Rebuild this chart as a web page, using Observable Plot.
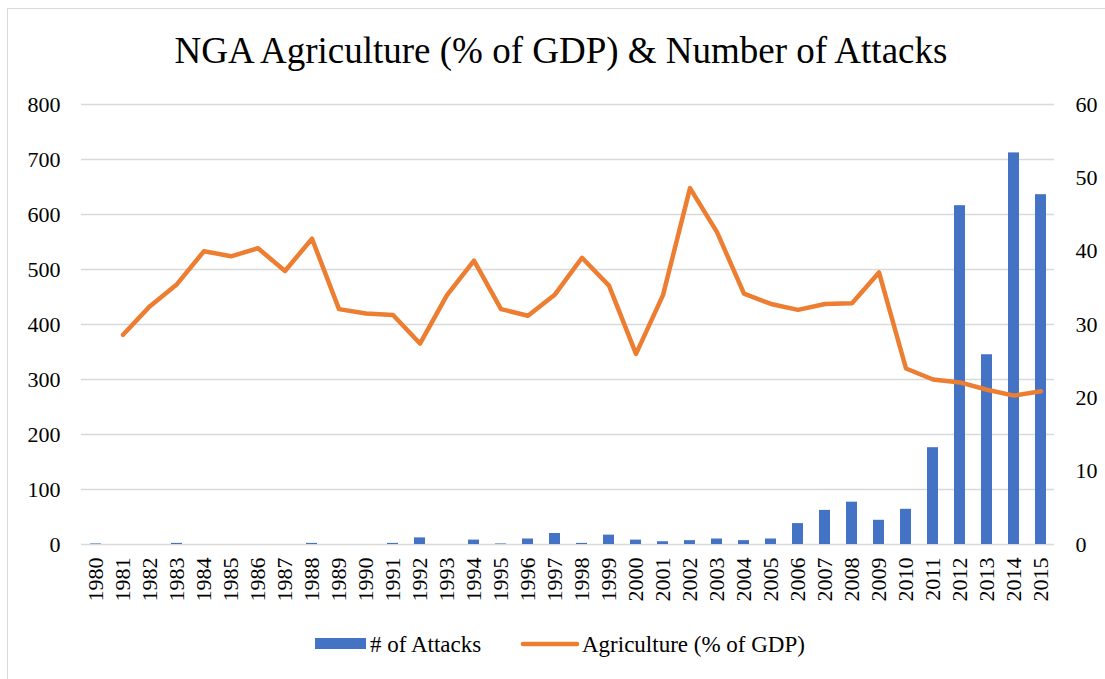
<!DOCTYPE html>
<html>
<head>
<meta charset="utf-8">
<script src="https://cdn.jsdelivr.net/npm/d3@7"></script>
<script src="https://cdn.jsdelivr.net/npm/@observablehq/plot@0.6"></script>
<style>
  html, body { margin: 0; padding: 0; background: #fff; overflow: hidden; }
  #wrap { position: relative; width: 1105px; height: 679px; overflow: hidden; font-family: "Liberation Serif", "Times New Roman", serif; }
  #frame { position: absolute; left: 7px; top: 8px; width: 1300px; height: 900px; border: 1.5px solid #d9d9d9; box-sizing: border-box; }
  #title { position: absolute; top: 32px; left: 561px; transform: translateX(-50%); white-space: nowrap; font-size: 37px; line-height: 1; color: #000; }
  #chart { position: absolute; left: 0; top: 0; }
  #chart svg text { font-family: "Liberation Serif", "Times New Roman", serif; }
  .leg { position: absolute; font-size: 23px; line-height: 1; color: #000; white-space: nowrap; }
</style>
</head>
<body>
<div id="wrap">
  <div id="frame"></div>
  <div id="chart"></div>
  <div id="title">NGA Agriculture (% of GDP) &amp; Number of Attacks</div>
  <div id="legend"></div>
</div>
<script>
const years = ["1980","1981","1982","1983","1984","1985","1986","1987","1988","1989",
  "1990","1991","1992","1993","1994","1995","1996","1997","1998","1999",
  "2000","2001","2002","2003","2004","2005","2006","2007","2008","2009",
  "2010","2011","2012","2013","2014","2015"];
const attacks = [1,0,0,2,0,0,0,0,2,0,
  0,2,12,0,8,1,10,20,2,17,
  8,5,7,10,7,10,38,62,77,44,
  64,176,616,345,712,636];
const agriYears = years.slice(1);
const agriculture = [28.6,32.5,35.5,40.0,39.3,40.4,37.3,41.7,32.1,
  31.5,31.3,27.4,34.0,38.7,32.1,31.2,34.1,39.1,35.3,
  26.0,34.0,48.6,42.6,34.2,32.8,32.0,32.8,32.9,37.1,
  24.0,22.5,22.1,21.1,20.3,20.9];
const leftTicks = [0,100,200,300,400,500,600,700,800];
const rightTicks = [0,10,20,30,40,50,60];
const leftMax = 800, rightMax = 60;
const seriesNames = ["# of Attacks", "Agriculture (% of GDP)"];
const colors = ["#4472C4", "#ED7D31"];

const barData = years.map((y, i) => ({year: y, value: attacks[i]}));
const lineData = agriYears.map((y, i) => ({year: y, value: agriculture[i]}));
const toLeft = v => v * leftMax / rightMax;

const chart = Plot.plot({
  width: 1105,
  height: 679,
  marginTop: 104,
  marginBottom: 135,
  marginLeft: 81,
  marginRight: 51,
  style: {fontFamily: "'Liberation Serif', 'Times New Roman', serif", fontSize: "22px", color: "#000", background: "transparent"},
  x: {type: "band", domain: years, paddingInner: 0.6, paddingOuter: 0.3},
  y: {domain: [0, leftMax]},
  marks: [
    Plot.gridY(leftTicks, {stroke: "#d9d9d9", strokeOpacity: 1, strokeWidth: 1.5}),
    Plot.barY(barData, {x: "year", y: "value", fill: colors[0]}),
    Plot.lineY(lineData, {x: "year", y: d => toLeft(d.value), stroke: colors[1], strokeWidth: 4.5, strokeLinejoin: "round", strokeLinecap: "round"}),
    Plot.axisY(leftTicks, {anchor: "left", tickSize: 0, tickPadding: 21, label: null, fill: "#000"}),
    Plot.axisY(rightTicks.map(toLeft), {anchor: "right", tickSize: 0, tickPadding: 21, label: null, fill: "#000", tickFormat: d => String(Math.round(d * rightMax / leftMax))}),
    Plot.axisX({tickSize: 0, tickPadding: 13, tickRotate: -90, label: null, fill: "#000"})
  ]
});
document.getElementById("chart").appendChild(chart);

// legend
const legend = document.getElementById("legend");
legend.innerHTML = `
  <div style="position:absolute;left:315px;top:638px;width:51px;height:11px;background:${colors[0]}"></div>
  <div class="leg" style="left:370px;top:633px;">${seriesNames[0]}</div>
  <svg style="position:absolute;left:520px;top:638px" width="60" height="12"><line x1="3" y1="6" x2="57" y2="6" stroke="${colors[1]}" stroke-width="4.5" stroke-linecap="round"/></svg>
  <div class="leg" style="left:582px;top:633px;">${seriesNames[1]}</div>
`;
</script>
</body>
</html>
